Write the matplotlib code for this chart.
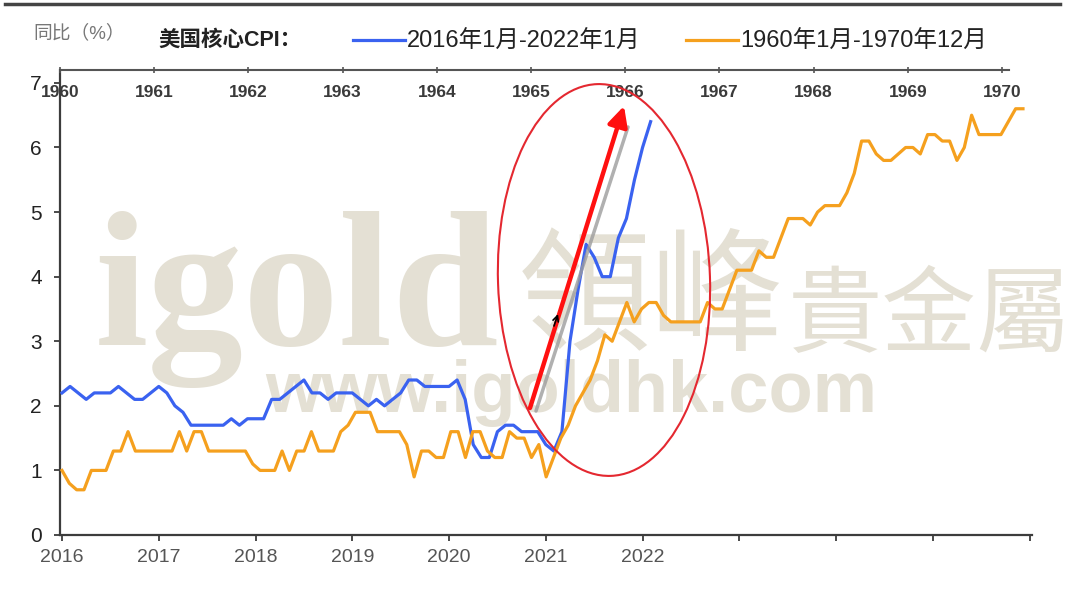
import numpy as np
import matplotlib.pyplot as plt
from matplotlib.patches import Ellipse

plt.rcParams['font.family'] = ['Liberation Sans', 'Noto Sans CJK SC']

# 美国核心CPI同比(%), 2016年1月起按月
cpi_recent = [2.2, 2.3, 2.2, 2.1, 2.2, 2.2, 2.2, 2.3, 2.2, 2.1, 2.1, 2.2,
              2.3, 2.2, 2.0, 1.9, 1.7, 1.7, 1.7, 1.7, 1.7, 1.8, 1.7, 1.8,
              1.8, 1.8, 2.1, 2.1, 2.2, 2.3, 2.4, 2.2, 2.2, 2.1, 2.2, 2.2,
              2.2, 2.1, 2.0, 2.1, 2.0, 2.1, 2.2, 2.4, 2.4, 2.3, 2.3, 2.3,
              2.3, 2.4, 2.1, 1.4, 1.2, 1.2, 1.6, 1.7, 1.7, 1.6, 1.6, 1.6,
              1.4, 1.3, 1.6, 3.0, 3.8, 4.5, 4.3, 4.0, 4.0, 4.6, 4.9, 5.5,
              6.0, 6.4]

# 1960年1月-1970年12月
cpi_60s = [1.0, 0.8, 0.7, 0.7, 1.0, 1.0, 1.0, 1.3, 1.3, 1.6, 1.3, 1.3,
           1.3, 1.3, 1.3, 1.3, 1.6, 1.3, 1.6, 1.6, 1.3, 1.3, 1.3, 1.3,
           1.3, 1.3, 1.1, 1.0, 1.0, 1.0, 1.3, 1.0, 1.3, 1.3, 1.6, 1.3,
           1.3, 1.3, 1.6, 1.7, 1.9, 1.9, 1.9, 1.6, 1.6, 1.6, 1.6, 1.4,
           0.9, 1.3, 1.3, 1.2, 1.2, 1.6, 1.6, 1.2, 1.6, 1.6, 1.3, 1.2,
           1.2, 1.6, 1.5, 1.5, 1.2, 1.4, 0.9, 1.2, 1.5, 1.7, 2.0, 2.2,
           2.4, 2.7, 3.1, 3.0, 3.3, 3.6, 3.3, 3.5, 3.6, 3.6, 3.4, 3.3,
           3.3, 3.3, 3.3, 3.3, 3.6, 3.5, 3.5, 3.8, 4.1, 4.1, 4.1, 4.4,
           4.3, 4.3, 4.6, 4.9, 4.9, 4.9, 4.8, 5.0, 5.1, 5.1, 5.1, 5.3,
           5.6, 6.1, 6.1, 5.9, 5.8, 5.8, 5.9, 6.0, 6.0, 5.9, 6.2, 6.2,
           6.1, 6.1, 5.8, 6.0, 6.5, 6.2, 6.2, 6.2, 6.2, 6.4, 6.6, 6.6]

bottom_labels = ['2016', '2017', '2018', '2019', '2020', '2021', '2022', '', '', '', '']
top_years = list(range(1960, 1971))
legend_labels = ['2016年1月-2022年1月', '1960年1月-1970年12月']

W, H = 1066, 612
fig = plt.figure(figsize=(W / 100, H / 100), dpi=100, facecolor='white')

# watermark layer (pixel coords)
bg = fig.add_axes([0, 0, 1, 1], zorder=-1)
bg.set_xlim(0, W)
bg.set_ylim(H, 0)
bg.axis('off')
wm = '#e4e0d4'
bg.text(95, 345, 'igold', fontsize=138, fontweight='bold', family='Liberation Serif',
        color=wm, va='baseline', ha='left')
bg.text(518, 340, '領峰', fontsize=96, family='Noto Sans CJK TC', fontweight='light',
        color=wm, va='baseline', ha='left')
bg.text(788, 345, '貴金屬', fontsize=68, family='Noto Sans CJK TC', fontweight='light',
        color=wm, va='baseline', ha='left')
bg.text(265, 412, 'www.igoldhk.com', fontsize=52, fontweight='bold', family='Liberation Sans',
        color=wm, va='baseline', ha='left')

# main axes
ax = fig.add_axes([60 / W, 1 - 535 / H, (1032 - 60) / W, (535 - 70) / H])
ax.set_facecolor('none')
x_recent = np.arange(len(cpi_recent))
l1, = ax.plot(x_recent, cpi_recent, color='#3a62f0', lw=2.3, zorder=3)
ax.set_xlim(-0.25, 120.3)
ax.set_ylim(0, 7.2)
ax.set_xticks(range(0, 121, 12))
ax.set_xticklabels(bottom_labels)
ax.set_yticks(range(8))
for s in ['top', 'right']:
    ax.spines[s].set_visible(False)
for s in ['left', 'bottom']:
    ax.spines[s].set_color('#3c3c3c')
    ax.spines[s].set_linewidth(1.6)
ax.tick_params(axis='y', direction='out', length=4, width=1.3, color='#3c3c3c',
               labelsize=15, labelcolor='#222222', pad=9)
ax.tick_params(axis='x', direction='out', length=4, width=1.3, color='#3c3c3c',
               labelsize=14, labelcolor='#555555', pad=6)

# 1960s series on its own horizontal scale
ax_o = ax.twiny()
ax_o.set_xlim(-0.273, 132.23)
l2, = ax_o.plot(np.arange(len(cpi_60s)), cpi_60s, color='#f5a01e', lw=2.3, zorder=3)
ax_o.axis('off')

# top year axis
ax_t = ax.twiny()
ax_t.set_xlim(1960.021, 1970.318)
ax_t.set_xticks(top_years)
ax_t.set_xticklabels([str(y) for y in top_years])
for s in ['left', 'right', 'bottom']:
    ax_t.spines[s].set_visible(False)
ax_t.spines['top'].set_bounds(1960.021, 1970.07)
ax_t.spines['top'].set_color('#555555')
ax_t.spines['top'].set_linewidth(1.5)
ax_t.tick_params(axis='x', direction='inout', length=5, width=1.2, color='#555555',
                 labelsize=12.5, labelcolor='#3a3a3a', pad=-24)
for lbl in ax_t.get_xticklabels():
    lbl.set_fontweight('bold')

# header
fig.text(33 / W, 1 - 33 / H, '同比（%）', fontsize=13.5, color='#777777', va='center', ha='left')
fig.text(158 / W, 1 - 40 / H, '美国核心CPI：', fontsize=15.5, fontweight='bold',
         color='#222222', va='center', ha='left')
fig.legend([l1, l2], legend_labels, ncol=2, frameon=False, loc='center left',
           bbox_to_anchor=(353 / W, 1 - 42 / H), fontsize=17, handlelength=2.2,
           handletextpad=0.1, columnspacing=1.9, borderpad=0, borderaxespad=0,
           labelcolor='#222222')

# annotations (pixel coords)
fg = fig.add_axes([0, 0, 1, 1], zorder=5)
fg.set_xlim(0, W)
fg.set_ylim(H, 0)
fg.axis('off')
fg.add_patch(Ellipse((604, 280), 212, 392, angle=-2, fill=False, ec='#e42830', lw=1.5))
fg.plot([536, 628], [411, 127], color='#9c9c9c', lw=2.5, alpha=0.8, solid_capstyle='round')
fg.annotate('', xy=(624, 106), xytext=(530, 408),
            arrowprops=dict(arrowstyle='-|>', color='#ff1010', lw=3.2,
                            mutation_scale=30, shrinkA=0, shrinkB=0))
fg.annotate('', xy=(558, 314), xytext=(554, 326),
            arrowprops=dict(arrowstyle='->', color='black', lw=1.2,
                            mutation_scale=10, shrinkA=0, shrinkB=0))
fg.plot([5, 1060], [4, 4], color='#444444', lw=2.5)

fig.savefig('out.png', dpi=100, facecolor='white')
